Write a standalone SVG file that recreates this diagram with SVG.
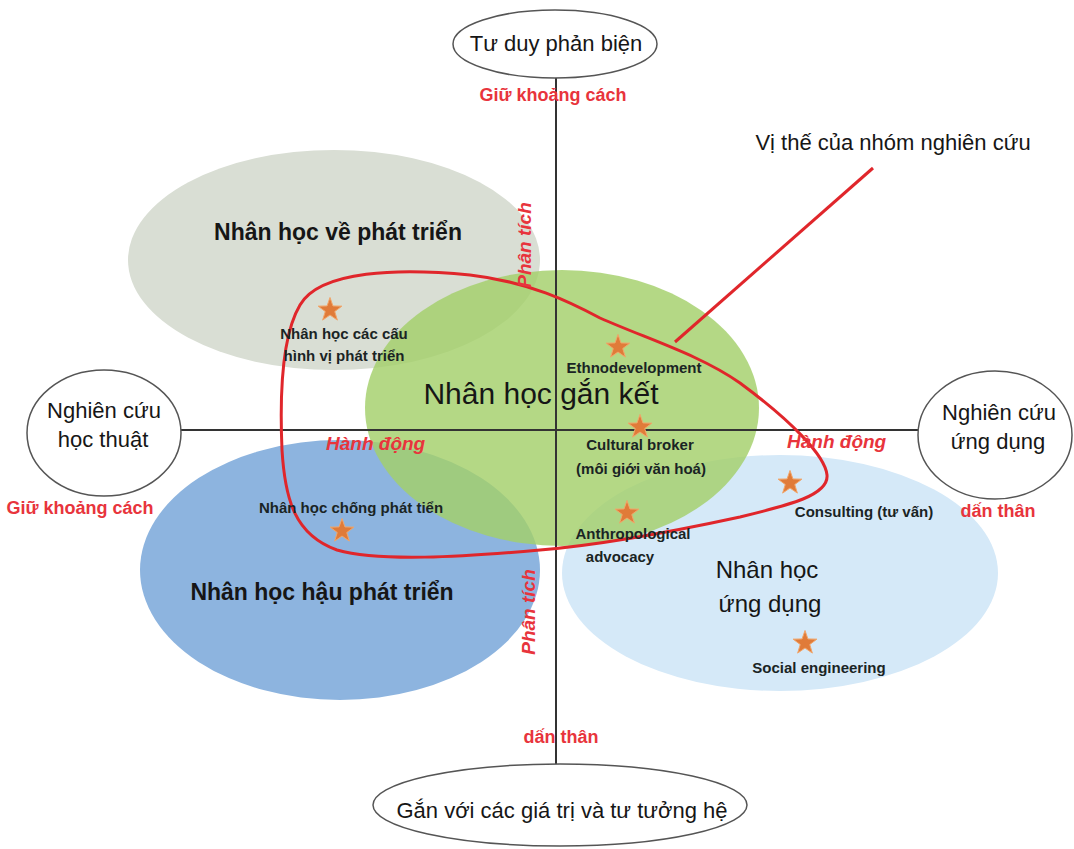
<svg xmlns="http://www.w3.org/2000/svg" xmlns:xlink="http://www.w3.org/1999/xlink" width="1074" height="849" viewBox="0 0 1074 849">
<style>
text{font-family:"Liberation Sans",Arial,sans-serif;fill:#161616}
.node{font-size:22px}
.big{font-size:23px;font-weight:bold}
.small{font-size:15px;font-weight:bold;fill:#1a2424}
.red{font-size:18px;font-weight:bold;fill:#e8343c}
.redi{font-size:19px;font-weight:bold;font-style:italic;fill:#e8343c}
.pole{fill:#fff;stroke:#555;stroke-width:1.5}
.axis{stroke:#333;stroke-width:2;fill:none}
.star{fill:#e07b39;stroke:#f2a66a;stroke-width:1}
</style>
<defs>
<path id="star" class="star" d="M0,-12.5 L2.94,-4.05 L11.89,-3.86 L4.75,1.54 L7.35,10.11 L0,5 L-7.35,10.11 L-4.75,1.54 L-11.89,-3.86 L-2.94,-4.05 Z"/>
</defs>
<rect width="1074" height="849" fill="#fff"/>

<g id="area-phat-trien">
<ellipse cx="334" cy="260" rx="206" ry="110" fill="#d9ded4"/>
</g>
<g id="area-hau-phat-trien">
<ellipse cx="340" cy="570" rx="200" ry="130" fill="#8db4df"/>
</g>
<g id="area-ung-dung">
<ellipse cx="780" cy="573" rx="218" ry="118" fill="#d5e9f8"/>
</g>
<g id="area-gan-ket">
<ellipse cx="562" cy="408" rx="197" ry="138" fill="#a3d06a" fill-opacity="0.82"/>
</g>

<g id="connectors">
<line class="axis" x1="556" y1="78" x2="556" y2="764"/>
<line class="axis" x1="181" y1="430" x2="918" y2="430"/>
<path id="vi-the-loop" d="M300,305 C320,270 400,268 470,275 C530,282 570,302 600,318 C650,340 700,355 740,383 C790,420 825,455 827,475 C829,495 790,505 740,517 C680,530 600,545 540,550 C460,557 380,562 337,550 C295,535 285,500 282,450 C279,380 285,330 300,305 Z" fill="none" stroke="#e0262b" stroke-width="3"/>
<line x1="873" y1="168" x2="675" y2="342" stroke="#e0262b" stroke-width="3"/>
</g>

<g id="pole-top">
<ellipse class="pole" cx="555" cy="44" rx="102" ry="34"/>
<text class="node" x="556" y="51" text-anchor="middle">Tư duy phản biện</text>
</g>
<g id="pole-left">
<ellipse class="pole" cx="104" cy="433" rx="77" ry="63"/>
<text class="node" x="104" y="418" text-anchor="middle">Nghiên cứu</text>
<text class="node" x="103" y="447" text-anchor="middle">học thuật</text>
</g>
<g id="pole-right">
<ellipse class="pole" cx="995" cy="435" rx="77" ry="64"/>
<text class="node" x="999" y="420" text-anchor="middle">Nghiên cứu</text>
<text class="node" x="998" y="449" text-anchor="middle">ứng dụng</text>
</g>
<g id="pole-bottom">
<ellipse class="pole" cx="560" cy="805" rx="187" ry="41"/>
<text class="node" x="562" y="818" text-anchor="middle">Gắn với các giá trị và tư tưởng hệ</text>
</g>

<g id="axis-labels">
<text class="red" x="553" y="101" text-anchor="middle">Giữ khoảng cách</text>
<text class="red" x="80" y="514" text-anchor="middle">Giữ khoảng cách</text>
<text class="red" x="998" y="517" text-anchor="middle">dấn thân</text>
<text class="red" x="561" y="743" text-anchor="middle">dấn thân</text>
<text class="redi" x="326" y="450">Hành động</text>
<text class="redi" x="787" y="448">Hành động</text>
<text class="redi" transform="translate(531,245) rotate(-90)" text-anchor="middle">Phân tích</text>
<text class="redi" transform="translate(535,612) rotate(-90)" text-anchor="middle">Phân tích</text>
</g>

<g id="label-vi-the">
<text class="node" x="893" y="150" text-anchor="middle">Vị thế của nhóm nghiên cứu</text>
</g>

<g id="title-phat-trien">
<text class="big" x="338" y="240" text-anchor="middle">Nhân học về phát triển</text>
</g>
<g id="title-hau-phat-trien">
<text class="big" x="322" y="600" text-anchor="middle">Nhân học hậu phát triển</text>
</g>
<g id="title-gan-ket">
<text x="541" y="404" text-anchor="middle" style="font-size:30px">Nhân học gắn kết</text>
</g>
<g id="title-ung-dung">
<text x="767" y="578" text-anchor="middle" style="font-size:24px">Nhân học</text>
<text x="770" y="612" text-anchor="middle" style="font-size:24px">ứng dụng</text>
</g>

<g id="item-cau-hinh">
<use xlink:href="#star" x="330" y="310"/>
<text class="small" x="344" y="339" text-anchor="middle">Nhân học các cấu</text>
<text class="small" x="344" y="361" text-anchor="middle">hình vị phát triển</text>
</g>
<g id="item-ethno">
<use xlink:href="#star" x="618" y="347"/>
<text class="small" x="634" y="373" text-anchor="middle">Ethnodevelopment</text>
</g>
<g id="item-broker">
<use xlink:href="#star" x="640" y="427"/>
<text class="small" x="640" y="450" text-anchor="middle">Cultural broker</text>
<text class="small" x="641" y="474" text-anchor="middle">(môi giới văn hoá)</text>
</g>
<g id="item-advocacy">
<use xlink:href="#star" x="627" y="513"/>
<text class="small" x="633" y="539" text-anchor="middle">Anthropological</text>
<text class="small" x="620" y="562" text-anchor="middle">advocacy</text>
</g>
<g id="item-chong">
<text class="small" x="351" y="513" text-anchor="middle">Nhân học chống phát tiển</text>
<use xlink:href="#star" x="342" y="531"/>
</g>
<g id="item-consulting">
<use xlink:href="#star" x="790" y="483"/>
<text class="small" x="864" y="517" text-anchor="middle">Consulting (tư vấn)</text>
</g>
<g id="item-social">
<use xlink:href="#star" x="805" y="643"/>
<text class="small" x="819" y="673" text-anchor="middle">Social engineering</text>
</g>
</svg>
